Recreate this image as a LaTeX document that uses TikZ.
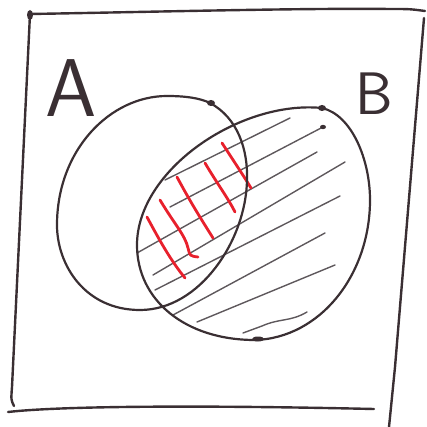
\documentclass[tikz,border=0pt]{standalone}
\definecolor{inkc}{HTML}{3A2F33}
\definecolor{pencil}{HTML}{5E585C}
\definecolor{redink}{HTML}{E8202C}
\begin{document}
\begin{tikzpicture}[x=1pt,y=-1pt,
  boxline/.style={draw=inkc, line width=2.4pt, line cap=round, line join=round},
  setline/.style={draw=inkc, line width=2.2pt, line cap=round, line join=round},
  hatchline/.style={draw=pencil, line width=1.4pt, line cap=round},
  redline/.style={draw=redink, line width=2.8pt, line cap=round},
  blob/.style={fill=inkc},
  lbl/.style={text=inkc, inner sep=0pt, anchor=base, font=\sffamily}]
\useasboundingbox (0,0) rectangle (426,427);
% universe box
\draw[boxline] (30,14) .. controls (150,12) and (300,8) .. (390,9) .. controls (410,9) .. (425,11);
\draw[boxline] (30,14) -- (12,387) .. controls (11,400) .. (14,406);
\draw[boxline] (8,412) .. controls (60,406) and (200,405) .. (374,409);
\draw[boxline] (424,18) -- (395,367) -- (389,427);
\fill[blob] (30,15) ellipse (3pt and 5pt);
% labels
\node[lbl, font=\sffamily\fontsize{82}{82}\selectfont] (labA) at (71,117) {A};
\node[lbl, font=\sffamily\fontsize{60}{60}\selectfont] (labB) at (374,115) {B};
% hatching of B
\draw[hatchline] (165,180) -- (290,118);
\draw[hatchline] (170,207) -- (323,127);
\draw[hatchline] (137,253) -- (317,152);
\draw[hatchline] (153,275) -- (345,162);
\draw[hatchline] (155,290) -- (340,196);
\draw[hatchline] (173,315) -- (325,233);
\draw[hatchline] (197,322) -- (335,265);
\draw[hatchline] (243,333) -- (262,326) .. controls (280,318) and (290,322) .. (307,312);
\fill[blob] (323,127) ellipse (3pt and 2.2pt);
% red hatching of the intersection
\draw[redline] (147,217) .. controls (162,245) and (172,262) .. (185,278);
\draw[redline] (160,200) .. controls (175,225) and (185,235) .. (188,248) .. controls (190,256) .. (198,257);
\draw[redline] (177,177) .. controls (192,205) and (203,222) .. (213,238);
\draw[redline] (205,163) .. controls (218,185) and (228,198) .. (235,212);
\draw[redline] (222,143) .. controls (235,163) and (243,175) .. (251,188);
% set A
\draw[setline] (210,103) .. controls (238,118) and (248,150) .. (247,180)
  .. controls (246,240) and (200,310) .. (140,310)
  .. controls (85,310) and (57,265) .. (57,225)
  .. controls (57,150) and (110,96) .. (167,96)
  .. controls (185,96) and (200,98) .. (210,103);
\fill[blob] (211,103) ellipse (4pt and 3pt);
% set B
\draw[setline] (322,108) .. controls (352,115) and (370,160) .. (370,200)
  .. controls (370,275) and (320,338) .. (255,340)
  .. controls (185,340) and (137,300) .. (137,245)
  .. controls (137,170) and (240,100) .. (322,108);
\fill[blob] (322,108) ellipse (4pt and 3pt);
\fill[blob] (258,339) ellipse (6pt and 2.5pt);
\end{tikzpicture}
\end{document}
